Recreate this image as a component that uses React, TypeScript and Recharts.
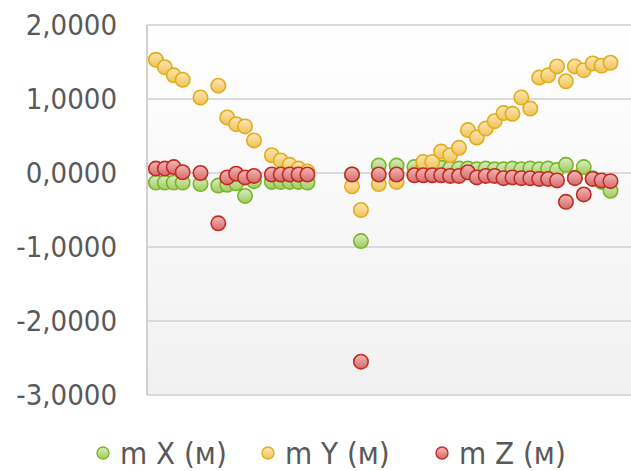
import React from 'react';
import { ScatterChart, Scatter, XAxis, YAxis, CartesianGrid, Legend } from 'recharts';

// sample position (index along the profile)
const xIndex = [0, 1, 2, 3, 5, 7, 8, 9, 10, 11, 13, 14, 15, 16, 17, 22, 23, 25, 27, 29, 30, 31, 32, 33, 34, 35, 36, 37, 38, 39, 40, 41, 42, 43, 44, 45, 46, 47, 48, 49, 50, 51];

const mX = [-0.13, -0.13, -0.13, -0.13, -0.15, -0.17, -0.16, -0.14, -0.31, -0.11, -0.12, -0.12, -0.12, -0.12, -0.13, -0.02, -0.92, 0.10, 0.10, 0.08, 0.07, 0.07, 0.07, 0.06, 0.06, 0.06, 0.05, 0.06, 0.05, 0.05, 0.06, 0.05, 0.06, 0.05, 0.06, 0.04, 0.11, -0.06, 0.08, -0.07, -0.12, -0.24];

const mY = [1.53, 1.43, 1.32, 1.26, 1.02, 1.18, 0.75, 0.66, 0.63, 0.44, 0.24, 0.17, 0.11, 0.06, 0.02, -0.18, -0.50, -0.15, -0.12, -0.02, 0.15, 0.15, 0.29, 0.24, 0.34, 0.58, 0.48, 0.60, 0.70, 0.81, 0.80, 1.02, 0.87, 1.29, 1.32, 1.44, 1.24, 1.44, 1.39, 1.48, 1.45, 1.49];

const mZ = [0.06, 0.06, 0.08, 0.01, 0.00, -0.68, -0.06, -0.01, -0.06, -0.04, -0.02, -0.02, -0.02, -0.02, -0.02, -0.02, -2.55, -0.02, -0.02, -0.03, -0.03, -0.03, -0.03, -0.04, -0.04, 0.01, -0.06, -0.04, -0.04, -0.07, -0.06, -0.07, -0.07, -0.08, -0.08, -0.10, -0.39, -0.07, -0.29, -0.08, -0.10, -0.11];

const yTicks = [-3, -2, -1, 0, 1, 2];
const seriesNames = ['m X (м)', 'm Y (м)', 'm Z (м)'];

const FONT = '"DejaVu Sans Condensed", "DejaVu Sans", sans-serif';
const TEXT = '#595959';

const series = [
  { name: seriesNames[0], values: mX, grad: 'gGreen', stroke: '#7ab52a', top: '#d9edc0', bottom: '#9fcb5e' },
  { name: seriesNames[1], values: mY, grad: 'gYellow', stroke: '#e2ad1c', top: '#fbe6b4', bottom: '#f0c358' },
  { name: seriesNames[2], values: mZ, grad: 'gRed', stroke: '#c42a1f', top: '#f2b8b8', bottom: '#d46a6a' },
];

const makeShape = (grad: string, stroke: string) => (props: any) => (
  <circle cx={props.cx} cy={props.cy} r={7.2} fill={`url(#${grad})`} stroke={stroke} strokeWidth={1.6} />
);

const fmt = (v: number) => v.toFixed(4).replace('.', ',');

const itemWidths = [165, 174, 140];

const LegendContent = () => (
  <div
    style={{
      height: 76,
      boxSizing: 'border-box',
      paddingTop: 43,
      paddingLeft: 96,
      display: 'flex',
      alignItems: 'flex-start',
    }}
  >
    {series.map((s, i) => (
      <div key={s.name} style={{ width: itemWidths[i], height: 30, display: 'flex', alignItems: 'center' }}>
        <svg width={14} height={14} style={{ marginRight: 10, flex: 'none' }}>
          <circle cx={7} cy={7} r={6} fill={`url(#${s.grad})`} stroke={s.stroke} strokeWidth={1.4} />
        </svg>
        <span style={{ fontFamily: FONT, fontSize: 31, color: TEXT, whiteSpace: 'nowrap', lineHeight: '30px' }}>{s.name}</span>
      </div>
    ))}
  </div>
);

export default function App() {
  return (
    <div style={{ position: 'absolute', left: 0, top: 0 }}>
      <ScatterChart width={631} height={471} margin={{ top: 25, right: 0, bottom: 0, left: 0 }}>
        <defs>
          <linearGradient id="bgGrad" x1="0" y1="0" x2="0" y2="1">
            <stop offset="0%" stopColor="#ffffff" />
            <stop offset="100%" stopColor="#f1f1f1" />
          </linearGradient>
          {series.map((s) => (
            <linearGradient key={s.grad} id={s.grad} x1="0" y1="0" x2="0" y2="1">
              <stop offset="0%" stopColor={s.top} />
              <stop offset="100%" stopColor={s.bottom} />
            </linearGradient>
          ))}
        </defs>
        <CartesianGrid vertical={false} stroke="#dadada" strokeWidth={2} fill="url(#bgGrad)" fillOpacity={1} />
        <XAxis type="number" dataKey="x" domain={[-1, 53.3]} hide allowDataOverflow />
        <YAxis
          type="number"
          dataKey="y"
          domain={[-3, 2]}
          ticks={yTicks}
          width={147}
          tickFormatter={fmt}
          axisLine={{ stroke: '#d0d0d0', strokeWidth: 2 }}
          tickLine={false}
          tickSize={6}
          tickMargin={24}
          tick={{ fill: TEXT, fontSize: 29, fontFamily: FONT }}
          interval={0}
        />
        <Legend verticalAlign="bottom" content={LegendContent} wrapperStyle={{ left: 0, width: 631 }} />
        {series.map((s) => (
          <Scatter
            key={s.name}
            name={s.name}
            data={xIndex.map((x, i) => ({ x, y: s.values[i] }))}
            shape={makeShape(s.grad, s.stroke)}
            isAnimationActive={false}
          />
        ))}
      </ScatterChart>
    </div>
  );
}
